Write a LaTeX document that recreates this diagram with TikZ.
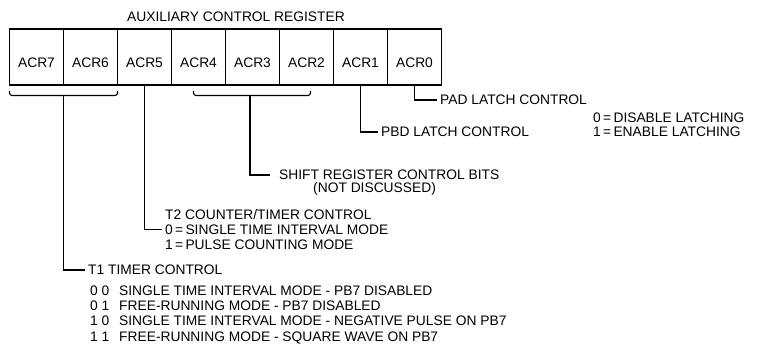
\documentclass[tikz,border=0pt]{standalone}
\usepackage{fontspec}
\setmainfont{Liberation Sans}
\usetikzlibrary{positioning}

\begin{document}
\begin{tikzpicture}[
		x=1pt, y=1pt,
		node distance=5.1pt,
		every node/.style={font=\fontsize{13.8pt}{15pt}\selectfont},
		regcell/.style={draw, line width=1.8pt, outer sep=0pt, inner sep=0pt,
			minimum width=54pt, minimum height=56pt, text height=22pt, text depth=0pt},
		lbl/.style={inner xsep=3pt, inner ysep=0pt, text height=9.9pt, text depth=0pt},
		lead/.style={line width=1.4pt},
		bracket/.style={line width=1.1pt, rounded corners=2.5pt}
	]
		\useasboundingbox (0,0) rectangle (759,-344);
		\node[anchor=base] (title) at (236,-22) {AUXILIARY CONTROL REGISTER};
		% register cells
		\node[regcell] (acr7) at (36.5,-57) {ACR7};
		\node[regcell, right=0pt of acr7] (acr6) {ACR6};
		\node[regcell, right=0pt of acr6] (acr5) {ACR5};
		\node[regcell, right=0pt of acr5] (acr4) {ACR4};
		\node[regcell, right=0pt of acr4] (acr3) {ACR3};
		\node[regcell, right=0pt of acr3] (acr2) {ACR2};
		\node[regcell, right=0pt of acr2] (acr1) {ACR1};
		\node[regcell, right=0pt of acr1] (acr0) {ACR0};
		% brackets under bit groups
		\draw[bracket] ([yshift=-6pt]acr7.south west) -- ([yshift=-10.5pt]acr7.south west)
			-- ([yshift=-10.5pt]acr6.south east) -- ([yshift=-6pt]acr6.south east);
		\draw[bracket] ([shift={(22pt,-6pt)}]acr4.south west) -- ([shift={(22pt,-10.5pt)}]acr4.south west)
			-- ([shift={(-23pt,-10.5pt)}]acr2.south east) -- ([shift={(-23pt,-6pt)}]acr2.south east);
		\coordinate (t1tap) at ([yshift=-10.5pt]acr7.south east);
		\coordinate (srtap) at ([shift={(-2.5pt,-10.5pt)}]acr3.south);
		% labels
		\node[lbl, anchor=west] (pad) at (437,-100) {PAD LATCH CONTROL};
		\node[lbl, anchor=west] (pbd) at (378,-132) {PBD LATCH CONTROL};
		\node[lbl, anchor=base west] (latch0) at (590,-123) {0\,=\,DISABLE LATCHING};
		\node[lbl, below=3.6pt of latch0.south west, anchor=north west] (latch1) {1\,=\,ENABLE LATCHING};
		\node[lbl, anchor=west, inner xsep=9pt] (shift) at (270,-175) {SHIFT REGISTER CONTROL BITS};
		\node[lbl, anchor=base west] (notdisc) at (310,-193) {(NOT DISCUSSED)};
		\node[lbl, anchor=west] (t2zero) at (162,-229.5) {0\,=\,SINGLE TIME INTERVAL MODE};
		\node[lbl, above=4.6pt of t2zero.north west, anchor=south west] (t2title) {T2 COUNTER/TIMER CONTROL};
		\node[lbl, below=4.6pt of t2zero.south west, anchor=north west] (t2one) {1\,=\,PULSE COUNTING MODE};
		\node[lbl, anchor=west] (t1) at (85,-270) {T1 TIMER CONTROL};
		\node[lbl, anchor=base west] (mode00) at (87,-295) {\makebox[29pt][l]{0 0}SINGLE TIME INTERVAL MODE - PB7 DISABLED};
		\node[lbl, below=of mode00.south west, anchor=north west] (mode01) {\makebox[29pt][l]{0 1}FREE-RUNNING MODE - PB7 DISABLED};
		\node[lbl, below=of mode01.south west, anchor=north west] (mode10) {\makebox[29pt][l]{1 0}SINGLE TIME INTERVAL MODE - NEGATIVE PULSE ON PB7};
		\node[lbl, below=of mode10.south west, anchor=north west] (mode11) {\makebox[29pt][l]{1 1}FREE-RUNNING MODE - SQUARE WAVE ON PB7};
		% leader lines
		\draw[lead] (acr0.south) |- (pad.west);
		\draw[lead] (acr1.south) |- (pbd.west);
		\draw[lead] (srtap) |- (shift.west);
		\draw[lead] (acr5.south) |- (t2zero.west);
		\draw[lead] (t1tap) |- (t1.west);
	\end{tikzpicture}
\end{document}
